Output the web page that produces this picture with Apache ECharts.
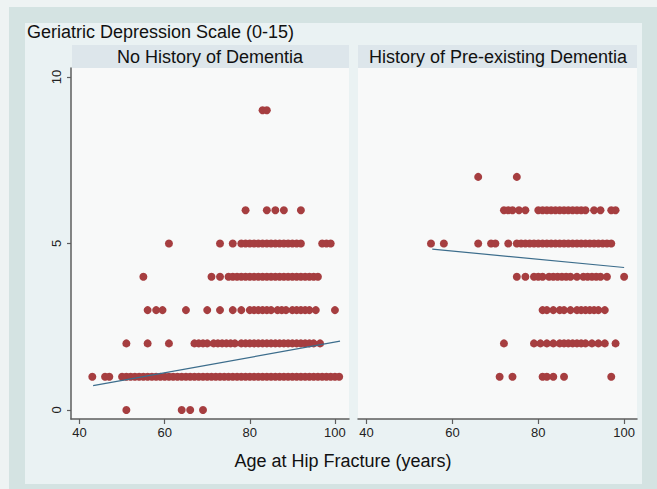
<!DOCTYPE html>
<html>
<head>
<meta charset="utf-8">
<script src="https://cdn.jsdelivr.net/npm/echarts@6/dist/echarts.min.js"></script>
<style>
html,body{margin:0;padding:0;background:#eef3f3;}
#c{width:657px;height:489px;}
</style>
</head>
<body>
<div id="c"></div>
<script>
// ---- Data: ages at hip fracture for each Geriatric Depression Scale score ----
// No History of Dementia
const nd0 = [51, 64, 66, 69];
const nd1 = [43, 46, 47, 50, 51, 52, 53, 54, 55, 56, 57, 58, 59, 60, 61, 62, 63, 64, 65, 66, 67, 68, 69, 70, 71, 72, 73, 74, 75, 76, 77, 78, 79, 80, 81, 82, 83, 84, 85, 86, 87, 88, 89, 90, 91, 92, 93, 94, 95, 96, 97, 98, 99, 100, 101];
const nd2 = [51, 56, 61, 67, 68, 69, 70, 71.5, 72.5, 73.5, 74.5, 75.5, 76.5, 78, 79, 80, 81, 82, 83, 84, 85, 86, 87, 88, 89, 90, 91, 92, 93, 94, 95, 96.5];
const nd3 = [56, 58, 59.5, 65, 70, 73, 76, 78, 80, 81, 82, 83, 84, 85, 86.5, 87.5, 88.5, 90, 91, 92, 93, 94, 95.5, 100];
const nd4 = [55, 71, 73, 75, 76, 77, 78, 79, 80, 81, 82, 83, 84, 85, 86, 87, 88, 89, 90, 91, 92, 93, 94, 95, 96];
const nd5 = [61, 73, 76, 78, 79, 80, 81, 82, 83, 84, 85, 86, 87, 88, 89, 90, 91, 92, 97, 98, 99];
const nd6 = [79, 84, 86, 88, 92];
const nd9 = [83, 84];
// History of Pre-existing Dementia
const hd1 = [71, 74, 81, 82, 83.5, 86, 97];
const hd2 = [72, 79, 80.5, 82, 83.5, 85, 86, 87, 88, 89, 90, 91, 92.5, 94, 95.5, 98];
const hd3 = [81, 82, 83.5, 85, 86, 87.5, 89, 90, 91, 92, 93, 94, 95.5];
const hd4 = [75, 77, 79, 80, 81, 82.5, 83.5, 84.5, 85.5, 86.5, 87.5, 89, 90.5, 91.5, 92.5, 93.5, 94.5, 96, 100];
const hd5 = [55, 58, 66, 69, 70, 73, 75, 76, 77, 78, 79, 80, 81, 82, 83, 84, 85, 86, 87, 88, 89, 90, 91, 92, 93, 94, 95, 96, 97];
const hd6 = [72, 73, 74, 75.5, 77, 80, 81, 82, 83, 84, 85, 86, 87, 88, 89, 90, 91, 93, 94.5, 97, 98];
const hd7 = [66, 75];
// Linear fit lines [age, score]
const fitNoDementia = [[43.2, 0.73], [101.2, 2.07]];
const fitDementia = [[55.3, 4.83], [100, 4.28]];
// Tick labels
const xTicks = [40, 60, 80, 100];
const yTicks = [0, 5, 10];
const panelTitles = ['No History of Dementia', 'History of Pre-existing Dementia'];
const yTitle = 'Geriatric Depression Scale (0-15)';
const xTitle = 'Age at Hip Fracture (years)';

function pts(ages, score) { return ages.map(a => [a, score]); }
const noDemData = [].concat(pts(nd0,0), pts(nd1,1), pts(nd2,2), pts(nd3,3), pts(nd4,4), pts(nd5,5), pts(nd6,6), pts(nd9,9));
const demData = [].concat(pts(hd1,1), pts(hd2,2), pts(hd3,3), pts(hd4,4), pts(hd5,5), pts(hd6,6), pts(hd7,7));

const chart = echarts.init(document.getElementById('c'), null, {renderer: 'svg'});
const FONT = 'Liberation Sans, Arial, Helvetica, sans-serif';
const axisCol = '#5e5e5e';
const dotCol = '#a63e40';
const lineCol = '#3c6d8c';

function xAxisCfg(gi, max) {
  return {
    type: 'value', gridIndex: gi, min: 38, max: max,
    axisLine: {show: true, onZero: false, lineStyle: {color: axisCol, width: 1.5}},
    axisTick: {show: true, length: 5, lineStyle: {color: axisCol, width: 1.2}, customValues: xTicks},
    axisLabel: {show: true, customValues: xTicks, fontSize: 13, color: '#222', fontFamily: FONT, margin: 7},
    splitLine: {show: false}
  };
}
function yAxisCfg(gi, show) {
  return {
    type: 'value', gridIndex: gi, min: -0.27, max: 10.27,
    axisLine: {show: show, onZero: false, lineStyle: {color: axisCol, width: 1.5}},
    axisTick: {show: show, length: 4, lineStyle: {color: axisCol, width: 1.2}, customValues: yTicks},
    axisLabel: {show: show, customValues: yTicks, rotate: 90, fontSize: 13, color: '#222', fontFamily: FONT, margin: 8},
    splitLine: {show: false}
  };
}

chart.setOption({
  animation: false,
  backgroundColor: '#eef3f3',
  graphic: [
    {type: 'rect', z: -30, silent: true, shape: {x: 9, y: 7, width: 648, height: 482}, style: {fill: '#d4e3e2'}},
    {type: 'rect', z: -29, silent: true, shape: {x: 25, y: 23, width: 617, height: 461}, style: {fill: '#eaf2f3'}},
    {type: 'rect', z: -28, silent: true, shape: {x: 71, y: 68, width: 278, height: 351}, style: {fill: '#f8f9f9'}},
    {type: 'rect', z: -28, silent: true, shape: {x: 358, y: 68, width: 279, height: 351}, style: {fill: '#f8f9f9'}},
    {type: 'rect', z: -28, silent: true, shape: {x: 72, y: 45, width: 277, height: 23}, style: {fill: '#dde6eb'}},
    {type: 'rect', z: -28, silent: true, shape: {x: 358, y: 45, width: 279, height: 23}, style: {fill: '#dde6eb'}},
    {type: 'text', z: 5, silent: true, x: 27, y: 32, style: {text: yTitle, font: '18px ' + FONT, fill: '#111', textVerticalAlign: 'middle', verticalAlign: 'middle'}},
    {type: 'text', z: 5, silent: true, x: 210, y: 57, style: {text: panelTitles[0], font: '18px ' + FONT, fill: '#111', textAlign: 'center', align: 'center', verticalAlign: 'middle', textVerticalAlign: 'middle'}},
    {type: 'text', z: 5, silent: true, x: 498, y: 57, style: {text: panelTitles[1], font: '18px ' + FONT, fill: '#111', textAlign: 'center', align: 'center', verticalAlign: 'middle', textVerticalAlign: 'middle'}},
    {type: 'text', z: 5, silent: true, x: 343, y: 461, style: {text: xTitle, font: '18px ' + FONT, fill: '#111', textAlign: 'center', align: 'center', verticalAlign: 'middle', textVerticalAlign: 'middle'}}
  ],
  grid: [
    {left: 71, top: 68, width: 278, height: 351, containLabel: false},
    {left: 358, top: 68, width: 279, height: 351, containLabel: false}
  ],
  xAxis: [xAxisCfg(0, 103.3), xAxisCfg(1, 103.0)],
  yAxis: [yAxisCfg(0, true), yAxisCfg(1, false)],
  series: [
    {type: 'scatter', xAxisIndex: 0, yAxisIndex: 0, data: noDemData, symbol: 'circle', symbolSize: 8, itemStyle: {color: dotCol, opacity: 1}, z: 2},
    {type: 'scatter', xAxisIndex: 1, yAxisIndex: 1, data: demData, symbol: 'circle', symbolSize: 8, itemStyle: {color: dotCol, opacity: 1}, z: 2},
    {type: 'line', xAxisIndex: 0, yAxisIndex: 0, data: fitNoDementia, showSymbol: false, symbol: 'none', lineStyle: {color: lineCol, width: 1.2}, z: 3},
    {type: 'line', xAxisIndex: 1, yAxisIndex: 1, data: fitDementia, showSymbol: false, symbol: 'none', lineStyle: {color: lineCol, width: 1.2}, z: 3}
  ]
});
</script>
</body>
</html>
